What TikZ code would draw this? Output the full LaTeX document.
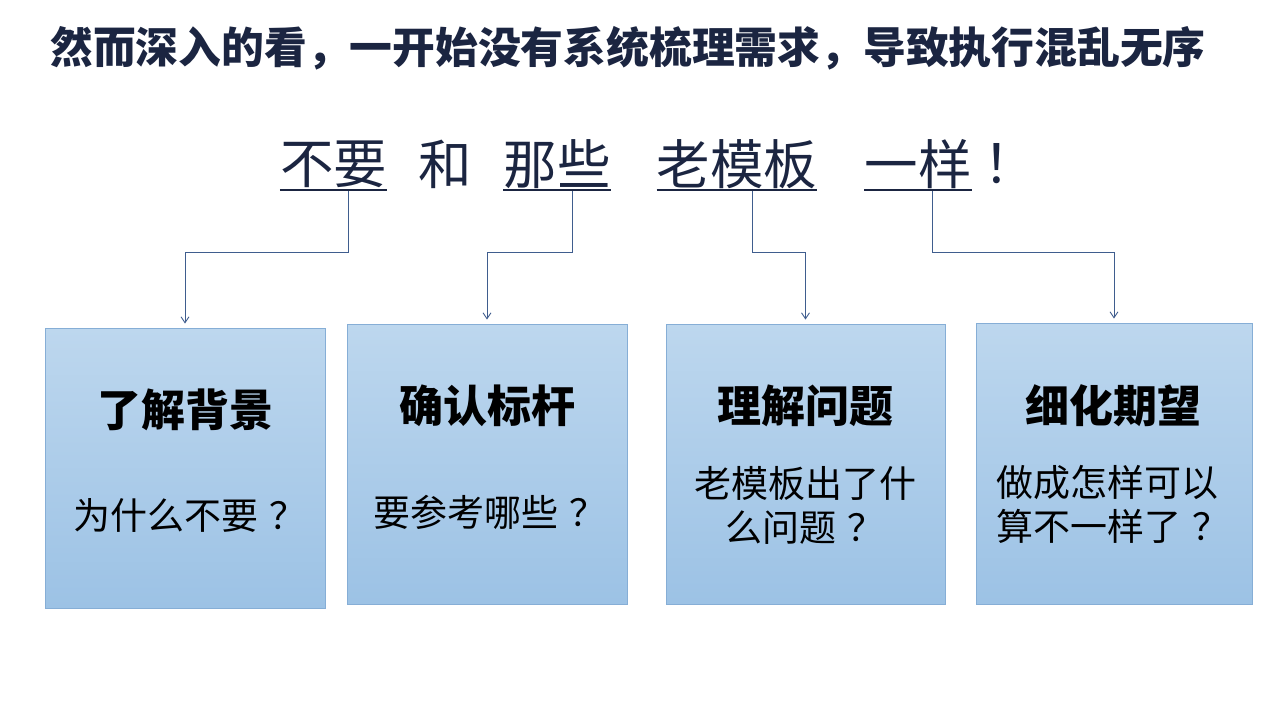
\documentclass[tikz,border=0pt]{standalone}
\usepackage{fontspec}
\newfontfamily\cjk{Noto Sans CJK SC}
\usetikzlibrary{arrows.meta}
\definecolor{navy}{HTML}{1B2541}
\definecolor{connc}{HTML}{3F5D8E}
\definecolor{boxtop}{HTML}{BDD7EE}
\definecolor{boxbot}{HTML}{9CC2E5}
\definecolor{boxline}{HTML}{86AED6}
\newcommand{\qm}{\hspace{0.3em}？}
\tikzset{
  headline/.style={font=\cjk\bfseries\fontsize{42.8}{48}\selectfont, text=navy, inner sep=0pt},
  word/.style={font=\cjk\fontsize{53.5}{60}\selectfont, text=navy, inner sep=0pt},
  uline/.style={draw=navy, line width=1.6pt},
  conn/.style={draw=connc, line width=0.9pt, -{Straight Barb[length=6pt,width=8pt]}, shorten >=4pt},
  card/.style={draw=boxline, line width=0.8pt, top color=boxtop, bottom color=boxbot, minimum width=280pt, minimum height=280pt, inner sep=0pt},
  cardtitle/.style={font=\cjk\bfseries\fontsize{44}{50}\selectfont, text=black, inner sep=0pt},
  cardtext/.style={font=\cjk\fontsize{37}{44}\selectfont, text=black, inner sep=0pt, align=center},
}
\begin{document}
\begin{tikzpicture}[x=1pt,y=-1pt]
\useasboundingbox (0,0) rectangle (1280,720);
\node[headline] (head) at (628,48) {然而深入的看，一开始没有系统梳理需求，导致执行混乱无序};
% second line words
\node[word] (w1) at (333.5,164) {不要};
\node[word] (w2) at (445,164) {和};
\node[word] (w3) at (557,164) {那些};
\node[word] (w4) at (737,164) {老模板};
\node[word] (w5) at (918,164) {一样};
\node[word] (w6) at (1010,164) {！};
\draw[uline] (w1.west |- 0,190) -- (w1.east |- 0,190);
\draw[uline] (w3.west |- 0,190) -- (w3.east |- 0,190);
\draw[uline] (w4.west |- 0,190) -- (w4.east |- 0,190);
\draw[uline] (w5.west |- 0,190) -- (w5.east |- 0,190);
% cards
\node[card] (b1) at (185,468) {};
\node[card] (b2) at (487,464) {};
\node[card, minimum width=279pt] (b3) at (805.5,464) {};
\node[card, minimum width=276pt, minimum height=281pt] (b4) at (1114,463.5) {};
% connectors
\coordinate (u1) at (348,191);
\coordinate (u3) at (572,191);
\coordinate (u4) at (752,191);
\coordinate (u5) at (932,191);
\draw[conn] (u1) -- (u1 |- 0,252) -| (b1.north);
\draw[conn] (u3) -- (u3 |- 0,252) -| (b2.north);
\draw[conn] (u4) -- (u4 |- 0,252) -| (b3.north);
\draw[conn] (u5) -- (u5 |- 0,252) -| (b4.north);
% card texts
\node[cardtitle] (t1) at (185,410) {了解背景};
\node[cardtext] (s1) at (190,515) {为什么不要\qm};
\node[cardtitle] (t2) at (487,406) {确认标杆};
\node[cardtext] (s2) at (490,512) {要参考哪些\qm};
\node[cardtitle] (t3) at (805,406) {理解问题};
\node[cardtext] (s3) at (805,505) {老模板出了什\\么问题\qm};
\node[cardtitle] (t4) at (1113,406) {细化期望};
\node[cardtext, align=left] (s4) at (1113,504) {做成怎样可以\\算不一样了\qm};
\end{tikzpicture}
\end{document}
